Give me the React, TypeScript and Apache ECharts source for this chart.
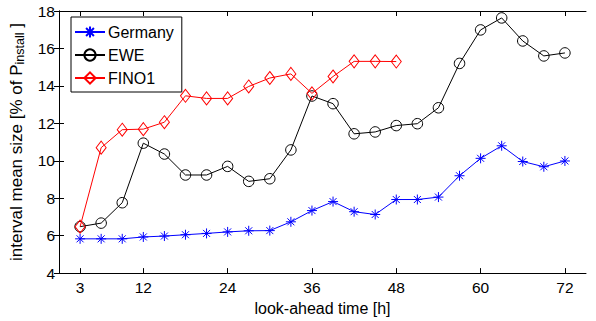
import React, { useEffect, useRef } from "react";
import * as echarts from "echarts";

const hours = [3, 6, 9, 12, 15, 18, 21, 24, 27, 30, 33, 36, 39, 42, 45, 48, 51, 54, 57, 60, 63, 66, 69, 72];
const germany = [5.83, 5.83, 5.83, 5.93, 5.98, 6.05, 6.12, 6.2, 6.26, 6.27, 6.74, 7.34, 7.82, 7.28, 7.13, 7.93, 7.93, 8.06, 9.2, 10.13, 10.8, 9.96, 9.68, 9.99];
const ewe = [6.48, 6.67, 7.76, 10.94, 10.36, 9.24, 9.24, 9.7, 8.9, 9.04, 10.58, 13.46, 13.05, 11.44, 11.54, 11.88, 11.98, 12.83, 15.2, 16.99, 17.63, 16.4, 15.6, 15.76];
const fino1 = [6.48, 10.7, 11.66, 11.69, 12.06, 13.47, 13.33, 13.33, 13.97, 14.42, 14.64, 13.6, 14.5, 15.31, 15.31, 15.3];
const xTicks = [3, 12, 24, 36, 48, 60, 72];

const FONT = "Liberation Sans, Arial, sans-serif";
const ASTERISK = "path://M5,0 L5,10 M0,5 L10,5 M1.5,1.5 L8.5,8.5 M1.5,8.5 L8.5,1.5";

const pairs = (ys: number[]) => ys.map((v, i) => [hours[i], v]);

export default function App() {
  const ref = useRef<HTMLDivElement>(null);
  useEffect(() => {
    if (!ref.current) return;
    const chart = echarts.init(ref.current, null, { renderer: "svg" });
    const tickCommon = { inside: true, length: 5, lineStyle: { color: "#000", width: 1 } };
    chart.setOption({
      animation: false,
      backgroundColor: "#fff",
      textStyle: { fontFamily: FONT },
      grid: { left: 59, right: 10, top: 11, bottom: 43, containLabel: false },
      legend: {
        orient: "vertical",
        left: 71,
        top: 17,
        backgroundColor: "#fff",
        borderColor: "#000",
        borderWidth: 1,
        borderRadius: 0,
        padding: [7, 8, 6, 3],
        itemGap: 7,
        itemWidth: 30,
        itemHeight: 14,
        textStyle: { fontSize: 16, color: "#000", fontFamily: FONT, padding: [0, 0, 0, -2] },
        data: ["Germany", "EWE", "FINO1"],
      },
      xAxis: [
        {
          type: "value",
          min: 0,
          max: 75,
          position: "bottom",
          name: "look-ahead time [h]",
          nameLocation: "middle",
          nameGap: 25,
          nameTextStyle: { fontSize: 16, color: "#000", fontFamily: FONT },
          axisLine: { lineStyle: { color: "#000", width: 1 } },
          axisTick: { ...tickCommon, customValues: xTicks },
          axisLabel: { customValues: xTicks, fontSize: 15.5, color: "#000", margin: 6, fontFamily: FONT },
          splitLine: { show: false },
        },
        {
          type: "value",
          min: 0,
          max: 75,
          position: "top",
          axisLine: { lineStyle: { color: "#000", width: 1 } },
          axisTick: { ...tickCommon, customValues: xTicks },
          axisLabel: { show: false },
          splitLine: { show: false },
        },
      ],
      yAxis: [
        {
          type: "value",
          min: 4,
          max: 18,
          interval: 2,
          position: "left",
          name: "{a|interval mean size [% of P}{s|install}{a| ]}",
          nameLocation: "middle",
          nameGap: 23,
          nameRotate: 90,
          nameTextStyle: {
            color: "#000",
            fontFamily: FONT,
            rich: {
              a: { fontSize: 17, color: "#000", fontFamily: FONT, lineHeight: 20, verticalAlign: "middle" },
              s: { fontSize: 12.5, color: "#000", fontFamily: FONT, lineHeight: 12, verticalAlign: "bottom" },
            },
          },
          axisLine: { show: true, lineStyle: { color: "#000", width: 1 } },
          axisTick: { ...tickCommon },
          axisLabel: { fontSize: 15.5, color: "#000", margin: 4, fontFamily: FONT },
          splitLine: { show: false },
        },
        {
          type: "value",
          min: 4,
          max: 18,
          interval: 2,
          position: "right",
          axisLine: { show: true, lineStyle: { color: "#000", width: 1 } },
          axisTick: { ...tickCommon },
          axisLabel: { show: false },
          splitLine: { show: false },
        },
      ],
      series: [
        {
          name: "Germany",
          type: "line",
          data: pairs(germany),
          symbol: ASTERISK,
          symbolSize: 10,
          lineStyle: { color: "#0000ff", width: 1 },
          itemStyle: { color: "#0000ff", borderColor: "#0000ff", borderWidth: 1 },
          z: 3,
        },
        {
          name: "EWE",
          type: "line",
          data: pairs(ewe),
          symbol: "circle",
          symbolSize: 10.5,
          lineStyle: { color: "#000", width: 1 },
          itemStyle: { color: "rgba(255,255,255,0)", borderColor: "#000", borderWidth: 1 },
          z: 2,
        },
        {
          name: "FINO1",
          type: "line",
          data: pairs(fino1),
          symbol: "diamond",
          symbolSize: [10, 13],
          lineStyle: { color: "#ff0000", width: 1 },
          itemStyle: { color: "rgba(255,255,255,0)", borderColor: "#ff0000", borderWidth: 1 },
          z: 4,
        },
      ],
    });
    return () => chart.dispose();
  }, []);
  return <div ref={ref} style={{ width: 596, height: 321, position: "absolute", left: 0, top: 0 }} />;
}
